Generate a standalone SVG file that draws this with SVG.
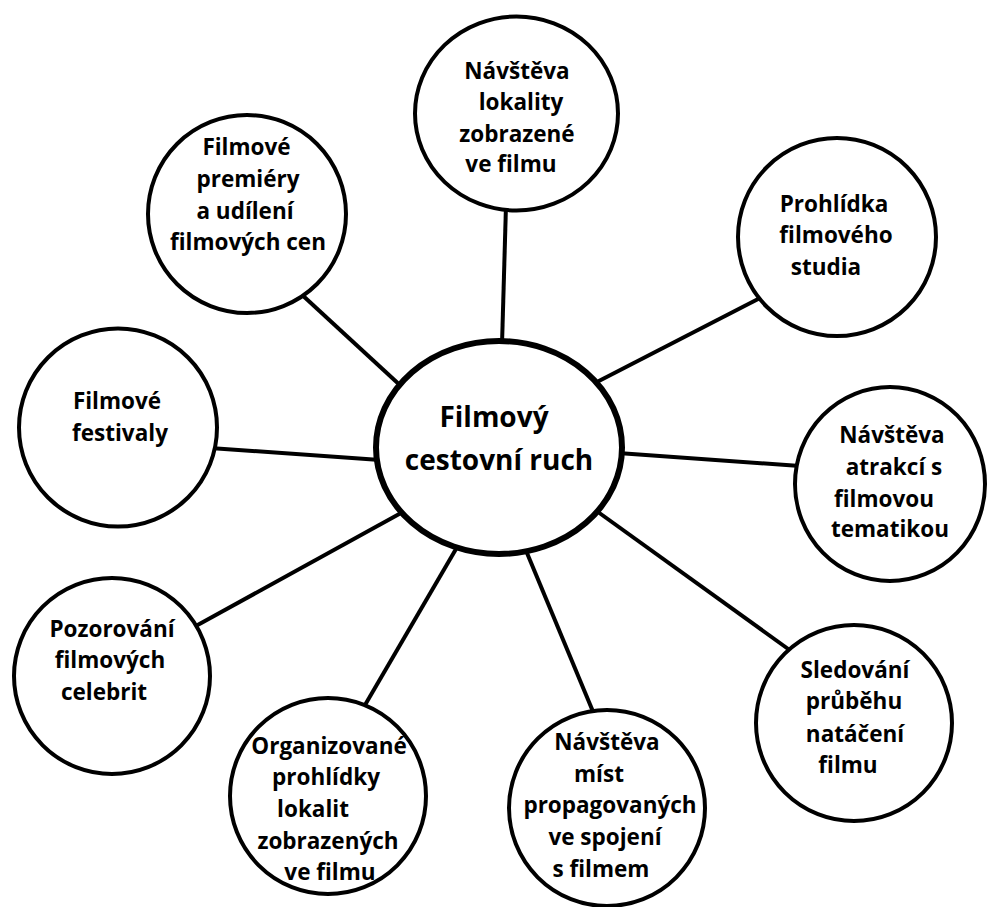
<svg xmlns="http://www.w3.org/2000/svg" width="989" height="907" viewBox="0 0 989 907">
  <style>
    .link { stroke: #000; stroke-width: 4; fill: none; stroke-linecap: butt; }
    .node { fill: #fff; stroke: #000; stroke-width: 4; }
    .hub { fill: #fff; stroke: #000; stroke-width: 6; }
    text { font-family: "Open Sans", "Liberation Sans", sans-serif; font-weight: bold; fill: #000; text-anchor: middle; }
    .lbl { font-size: 22.5px; }
    .hubl { font-size: 28px; }
  </style>
  <rect width="989" height="907" fill="#fff"/>

  <!-- spokes from the hub to each topic -->
  <g id="connectors">
    <line class="link" x1="506" y1="205" x2="502" y2="345"/>
    <line class="link" x1="300" y1="293" x2="402" y2="387"/>
    <line class="link" x1="762" y1="297" x2="595" y2="383"/>
    <line class="link" x1="210" y1="448" x2="380" y2="460"/>
    <line class="link" x1="618" y1="453" x2="800" y2="466"/>
    <line class="link" x1="194" y1="627" x2="401" y2="513"/>
    <line class="link" x1="365" y1="705" x2="456" y2="549"/>
    <line class="link" x1="527" y1="553" x2="594" y2="714"/>
    <line class="link" x1="598" y1="512" x2="791" y2="651"/>
  </g>

  <!-- hub -->
  <g id="hub">
    <ellipse class="hub" cx="499" cy="447.5" rx="123" ry="106.5"/>
    <text class="hubl" x="494" y="427">Filmový</text>
    <text class="hubl" x="499" y="470">cestovní ruch</text>
  </g>

  <g id="node-lokality">
    <ellipse class="node" cx="516.5" cy="113.5" rx="101.5" ry="97"/>
    <text class="lbl" x="517" y="79">Návštěva</text>
    <text class="lbl" x="521" y="110">lokality</text>
    <text class="lbl" x="517" y="142">zobrazené</text>
    <text class="lbl" x="511" y="172">ve filmu</text>
  </g>

  <g id="node-premiery">
    <circle class="node" cx="247" cy="214" r="99"/>
    <text class="lbl" x="246.5" y="155">Filmové</text>
    <text class="lbl" x="248" y="187">premiéry</text>
    <text class="lbl" x="245" y="219">a udílení</text>
    <text class="lbl" x="248" y="250">filmových cen</text>
  </g>

  <g id="node-studio">
    <circle class="node" cx="837" cy="237" r="99"/>
    <text class="lbl" x="834" y="212">Prohlídka</text>
    <text class="lbl" x="836" y="243">filmového</text>
    <text class="lbl" x="826" y="275">studia</text>
  </g>

  <g id="node-festivaly">
    <circle class="node" cx="118" cy="427.5" r="99"/>
    <text class="lbl" x="117" y="409">Filmové</text>
    <text class="lbl" x="120" y="441">festivaly</text>
  </g>

  <g id="node-atrakce">
    <ellipse class="node" cx="890" cy="484" rx="95" ry="97"/>
    <text class="lbl" x="892" y="443">Návštěva</text>
    <text class="lbl" x="894" y="475">atrakcí s</text>
    <text class="lbl" x="884" y="507">filmovou</text>
    <text class="lbl" x="890" y="537">tematikou</text>
  </g>

  <g id="node-celebrity">
    <circle class="node" cx="112" cy="676" r="98"/>
    <text class="lbl" x="112" y="637">Pozorování</text>
    <text class="lbl" x="110" y="668">filmových</text>
    <text class="lbl" x="104" y="700">celebrit</text>
  </g>

  <g id="node-nataceni">
    <circle class="node" cx="854" cy="723" r="98"/>
    <text class="lbl" x="855" y="678">Sledování</text>
    <text class="lbl" x="854" y="709">průběhu</text>
    <text class="lbl" x="855" y="742">natáčení</text>
    <text class="lbl" x="848" y="773">filmu</text>
  </g>

  <g id="node-prohlidky">
    <circle class="node" cx="328" cy="796" r="98"/>
    <text class="lbl" x="329" y="754">Organizované</text>
    <text class="lbl" x="326" y="785">prohlídky</text>
    <text class="lbl" x="313" y="817">lokalit</text>
    <text class="lbl" x="328" y="849">zobrazených</text>
    <text class="lbl" x="330" y="880">ve filmu</text>
  </g>

  <g id="node-mista">
    <circle class="node" cx="607" cy="808" r="98"/>
    <text class="lbl" x="607" y="750">Návštěva</text>
    <text class="lbl" x="599" y="782">míst</text>
    <text class="lbl" x="610" y="813">propagovaných</text>
    <text class="lbl" x="605" y="845">ve spojení</text>
    <text class="lbl" x="601" y="877">s filmem</text>
  </g>
</svg>
